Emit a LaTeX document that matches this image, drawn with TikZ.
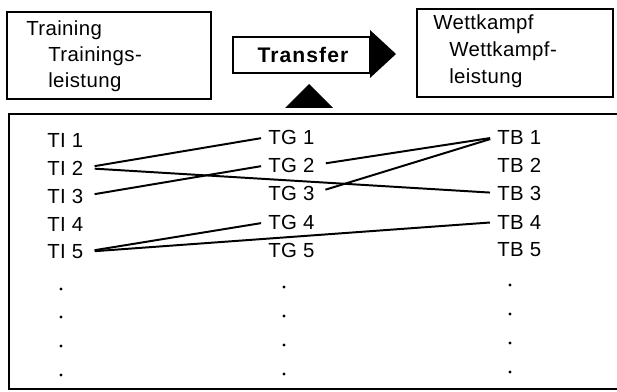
\documentclass[tikz,border=0pt]{standalone}
\usepackage{fontspec}
\setmainfont{Liberation Sans}[LetterSpace=2]
\newfontfamily\transferfont{Liberation Sans}[LetterSpace=5]

\begin{document}
\begin{tikzpicture}[x=.025cm, y=-.025cm,
    lbl/.style={inner sep=0, anchor=west, font=\fontsize{14.5}{17}\selectfont},
    txt/.style={inner sep=0, anchor=base west, font=\fontsize{14.5}{17}\selectfont},
    dotnode/.style={circle, fill, inner sep=0, minimum size=2.4pt},
    link/.style={line width=1.4pt, shorten <=8pt, shorten >=5pt},
    frame/.style={line width=1.1pt}]
  \useasboundingbox (0,0) rectangle (617,392);

          % top row
          \draw[frame] (7,12) rectangle (211,99);
          \node[txt] (train) at (26,36){Training};
          \node[txt] (trainl1) at (48,62){Trainings-};
          \node[txt] (trainl2) at (48,88){leistung};
          \draw[frame] (233,37) rectangle (370,73);
          \node[font=\transferfont\fontsize{15}{17}\selectfont\bfseries] (transfer) at (303,55){Transfer};
          \fill (370,30) -- (396,54) -- (370,78) -- cycle;
          \fill (285,108) -- (333,108) -- (309,84) -- cycle;
          \draw[frame] (417,9) rectangle (613,97);
          \node[txt] (wett) at (433,30){Wettkampf};
          \node[txt] (wettl1) at (449,57){Wettkampf-};
          \node[txt] (wettl2) at (449,84){leistung};

          % lower frame
          \draw[frame] (630,114) -- (9,114) -- (9,389) -- (630,389);
          \node[lbl] (ti1) at (47,140){TI 1};
          \node[lbl] (ti2) at (47,168){TI 2};
          \node[lbl] (ti3) at (47,196){TI 3};
          \node[lbl] (ti4) at (47,224){TI 4};
          \node[lbl] (ti5) at (47,252){TI 5};
          \node[lbl] (tg1) at (268,137){TG 1};
          \node[lbl] (tg2) at (268,165){TG 2};
          \node[lbl] (tg3) at (268,193){TG 3};
          \node[lbl] (tg4) at (268,222){TG 4};
          \node[lbl] (tg5) at (268,250){TG 5};
          \node[lbl] (tb1) at (497,137){TB 1};
          \node[lbl] (tb2) at (497,165){TB 2};
          \node[lbl] (tb3) at (497,193){TB 3};
          \node[lbl] (tb4) at (497,222){TB 4};
          \node[lbl] (tb5) at (497,250){TB 5};
          \draw[link](ti2.east) -- (tg1.west);
          \draw[link](ti2.east) -- (tb3.west);
          \draw[link](ti3.east) -- (tg2.west);
          \draw[link](tg2.east) -- (tb1.west);
          \draw[link](tg3.east) -- (tb1.west);
          \draw[link](ti5.east) -- (tg4.west);
          \draw[link](ti5.east) -- (tb4.west);

          % dots
          \node[dotnode] (tidot1) at (61,289){};
          \node[dotnode] (tidot2) at (61,317){};
          \node[dotnode] (tidot3) at (61,346){};
          \node[dotnode] (tidot4) at (61,375){};
          \node[dotnode] (tgdot1) at (284,287){};
          \node[dotnode] (tgdot2) at (284,316){};
          \node[dotnode] (tgdot3) at (284,345){};
          \node[dotnode] (tgdot4) at (284,374){};
          \node[dotnode] (tbdot1) at (510,285){};
          \node[dotnode] (tbdot2) at (510,314){};
          \node[dotnode] (tbdot3) at (510,343){};
          \node[dotnode] (tbdot4) at (510,372){};
        \end{tikzpicture}
\end{document}
